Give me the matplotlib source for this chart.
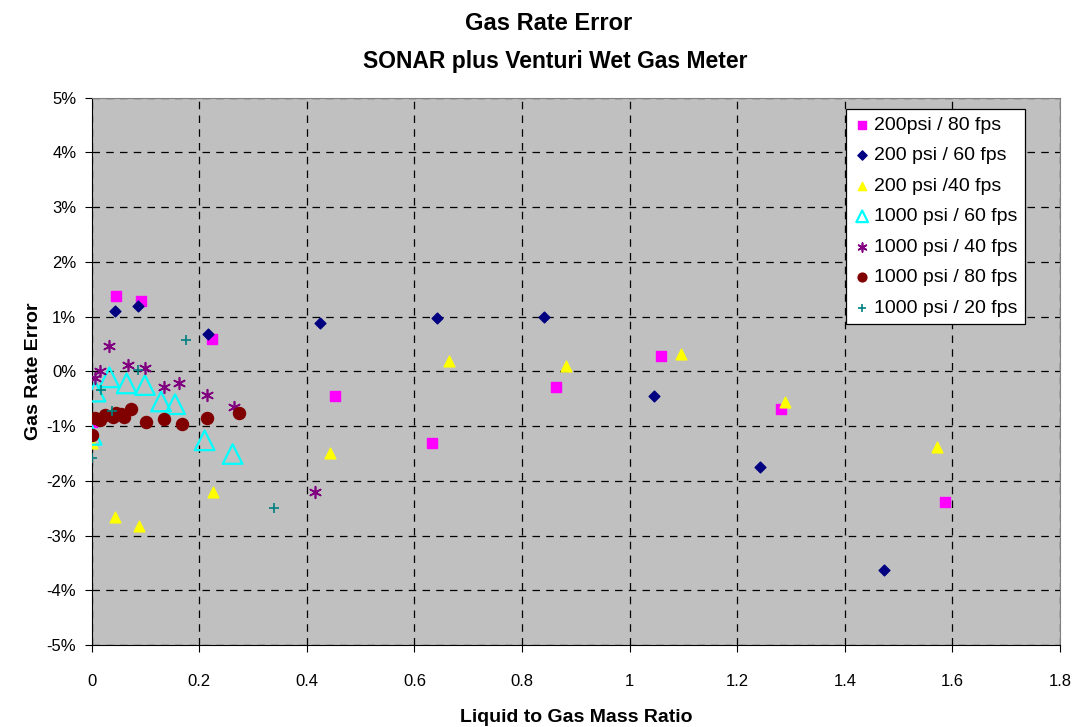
import numpy as np
import matplotlib
matplotlib.use("Agg")
import matplotlib.pyplot as plt
from matplotlib.ticker import FuncFormatter

# 200psi / 80 fps
x_200_80 = [0.045, 0.091, 0.223, 0.0, 0.452, 0.632, 0.863, 1.058, 1.281, 1.586]
y_200_80 = [1.38, 1.29, 0.59, -0.92, -0.45, -1.31, -0.28, 0.28, -0.69, -2.39]
# 200 psi / 60 fps
x_200_60 = [0.043, 0.086, 0.217, 0.425, 0.642, 0.841, 1.045, 1.242, 1.473]
y_200_60 = [1.11, 1.20, 0.68, 0.89, 0.98, 1.00, -0.45, -1.75, -3.63]
# 200 psi / 40 fps
x_200_40 = [0.0, 0.043, 0.088, 0.226, 0.443, 0.664, 0.882, 1.095, 1.289, 1.571]
y_200_40 = [-1.31, -2.66, -2.83, -2.21, -1.50, 0.19, 0.10, 0.32, -0.56, -1.38]
# 1000 psi / 60 fps
x_1000_60 = [0.007, 0.033, 0.065, 0.099, 0.129, 0.155, 0.210, 0.262, 0.0]
y_1000_60 = [-0.37, -0.11, -0.22, -0.25, -0.55, -0.60, -1.26, -1.51, -1.16]
# 1000 psi / 40 fps
x_1000_40 = [0.033, 0.007, 0.015, 0.067, 0.100, 0.134, 0.162, 0.214, 0.264, 0.415]
y_1000_40 = [0.47, -0.12, 0.01, 0.12, 0.06, -0.28, -0.21, -0.43, -0.65, -2.21]
# 1000 psi / 80 fps
x_1000_80 = [0.0, 0.006, 0.015, 0.025, 0.040, 0.046, 0.055, 0.061, 0.073, 0.101, 0.134, 0.168, 0.214, 0.273]
y_1000_80 = [-1.16, -0.86, -0.89, -0.80, -0.84, -0.76, -0.78, -0.83, -0.68, -0.92, -0.87, -0.97, -0.85, -0.77]
# 1000 psi / 20 fps
x_1000_20 = [0.0, 0.017, 0.037, 0.087, 0.176, 0.339]
y_1000_20 = [-1.59, -0.34, -0.72, 0.03, 0.58, -2.49]

plt.rcParams['font.family'] = ['Liberation Sans', 'DejaVu Sans']

fig = plt.figure(figsize=(10.77, 7.27), dpi=100)
# plot area: 91.7..1060 px wide, 97.7..645 px high
ax = fig.add_axes([0.0851, 0.1128, 0.8991, 0.7528])
ax.set_facecolor('#C0C0C0')

ax.scatter(x_200_80, y_200_80, marker='s', s=55, color='#FF00FF', label='200psi / 80 fps', zorder=3)
ax.scatter(x_200_60, y_200_60, marker='D', s=30, color='#000080', label='200 psi / 60 fps', zorder=3)
ax.scatter(x_200_40, y_200_40, marker='^', s=60, color='#FFFF00', label='200 psi /40 fps', zorder=3)
ax.scatter(x_1000_60, y_1000_60, marker='^', s=200, facecolors='none', edgecolors='#00FFFF',
           linewidths=1.6, label='1000 psi / 60 fps', zorder=3)
ax.scatter(x_1000_40, y_1000_40, marker=(6, 2, 0), s=70, color='#800080', linewidths=1.2,
           label='1000 psi / 40 fps', zorder=3)
ax.scatter(x_1000_80, y_1000_80, marker='o', s=75, color='#800000', label='1000 psi / 80 fps', zorder=3)
ax.scatter(x_1000_20, y_1000_20, marker='+', s=60, color='#008080', linewidths=1.2,
           label='1000 psi / 20 fps', zorder=3)

ax.set_xlim(0, 1.8)
ax.set_ylim(-5, 5)
ax.set_xticks(np.arange(0, 1.81, 0.2))
ax.set_yticks(np.arange(-5, 5.1, 1))
ax.xaxis.set_major_formatter(FuncFormatter(lambda v, p: '0' if abs(v) < 1e-9 else ('%g' % round(v, 1))))
ax.yaxis.set_major_formatter(FuncFormatter(lambda v, p: '%d%%' % round(v)))
ax.tick_params(labelsize=12, direction='out', length=5, color='black')
ax.tick_params(axis='x', pad=16)
ax.tick_params(axis='y', pad=6)
ax.grid(True, color='black', linestyle=(0, (6, 5)), linewidth=0.9, zorder=1)
ax.set_axisbelow(True)
for side in ['top', 'right']:
    ax.spines[side].set_color('#808080')
for side in ['left', 'bottom']:
    ax.spines[side].set_color('black')

ax.set_xlabel('Liquid to Gas Mass Ratio', fontsize=14, fontweight='bold', labelpad=14)
ax.set_ylabel('Gas Rate Error', fontsize=14, fontweight='bold', labelpad=3)

fig.text(0.509, 0.967, 'Gas Rate Error', ha='center', va='center', fontsize=17, fontweight='bold')
fig.text(0.516, 0.916, 'SONAR plus Venturi Wet Gas Meter', ha='center', va='center', fontsize=16.5, fontweight='bold')

leg = ax.legend(loc='upper right', bbox_to_anchor=(0.964, 0.98), borderaxespad=0, fontsize=14,
                frameon=True, fancybox=False, edgecolor='black', framealpha=1, handletextpad=0.15,
                borderpad=0.4, labelspacing=0.66, handlelength=0.9, scatterpoints=1)
leg.get_frame().set_linewidth(0.9)
for h, sz in zip(leg.legend_handles, [30, 22, 35, 70, 40, 40, 40]):
    h.set_sizes([sz])

plt.savefig('out.png', dpi=100)
